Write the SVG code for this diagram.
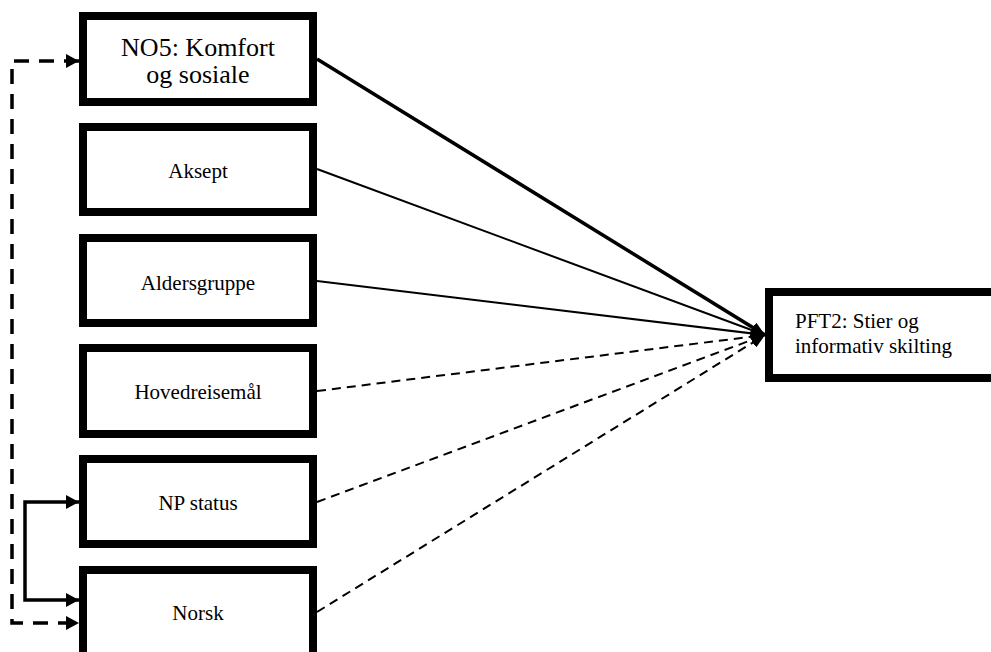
<svg xmlns="http://www.w3.org/2000/svg" width="991" height="652" viewBox="0 0 991 652">
  <style>
    .box { fill: #fff; stroke: #000; stroke-width: 8; }
    .lbl { font-family: "Liberation Serif", "Times New Roman", serif; font-size: 21px; fill: #000; text-anchor: middle; }
    .big { font-size: 26px; }
    .pft { text-anchor: start; }
    .edge { fill: none; stroke: #000; }
    .thick { stroke-width: 3.5; }
    .thin { stroke-width: 2; }
    .dash { stroke-width: 2; stroke-dasharray: 9 6; }
    .loop { stroke-width: 3.5; stroke-dasharray: 15 10; }
    .bracket { stroke-width: 3.5; }
  </style>
  <defs>
    <marker id="ah" viewBox="0 0 14 12" refX="14" refY="6" markerWidth="14" markerHeight="12" markerUnits="userSpaceOnUse" orient="auto">
      <path d="M0,0 L14,6 L0,12 Z" fill="#000"/>
    </marker>
    <marker id="ahs" viewBox="0 0 13 14" refX="13" refY="7" markerWidth="13" markerHeight="14" markerUnits="userSpaceOnUse" orient="auto-start-reverse">
      <path d="M0,0 L13,7 L0,14 Z" fill="#000"/>
    </marker>
  </defs>

  <g id="connectors">
    <line class="edge thick" x1="317" y1="59" x2="765" y2="335" marker-end="url(#ah)"/>
    <line class="edge thin" x1="317" y1="169" x2="765" y2="335" marker-end="url(#ah)"/>
    <line class="edge thin" x1="317" y1="281" x2="765" y2="335" marker-end="url(#ah)"/>
    <line class="edge dash" x1="317" y1="391" x2="765" y2="335" marker-end="url(#ah)"/>
    <line class="edge dash" x1="317" y1="502" x2="765" y2="335" marker-end="url(#ah)"/>
    <line class="edge dash" x1="317" y1="612" x2="765" y2="335" marker-end="url(#ah)"/>
    <path class="edge loop" d="M79,61 H12 V623 H79" marker-start="url(#ahs)" marker-end="url(#ahs)"/>
    <path class="edge bracket" d="M79,502 H25 V600 H79" marker-start="url(#ahs)" marker-end="url(#ahs)"/>
  </g>

  <g id="no5">
    <rect class="box" x="83" y="16" width="230" height="86"/>
    <text class="lbl big" x="198" y="56">NO5: Komfort</text>
    <text class="lbl big" x="198" y="83">og sosiale</text>
  </g>
  <g id="aksept">
    <rect class="box" x="83" y="127" width="230" height="85"/>
    <text class="lbl" x="198" y="178">Aksept</text>
  </g>
  <g id="aldersgruppe">
    <rect class="box" x="83" y="238" width="230" height="85"/>
    <text class="lbl" x="198" y="290">Aldersgruppe</text>
  </g>
  <g id="hovedreisemal">
    <rect class="box" x="83" y="348" width="230" height="86"/>
    <text class="lbl" x="198" y="399">Hovedreisemål</text>
  </g>
  <g id="npstatus">
    <rect class="box" x="83" y="459" width="230" height="85"/>
    <text class="lbl" x="198" y="510">NP status</text>
  </g>
  <g id="norsk">
    <rect class="box" x="83" y="570" width="230" height="90"/>
    <text class="lbl" x="198" y="620">Norsk</text>
  </g>
  <g id="pft2">
    <rect class="box" x="769" y="292" width="240" height="86"/>
    <text class="lbl pft" x="795" y="328">PFT2: Stier og</text>
    <text class="lbl pft" x="795" y="353">informativ skilting</text>
  </g>
</svg>
